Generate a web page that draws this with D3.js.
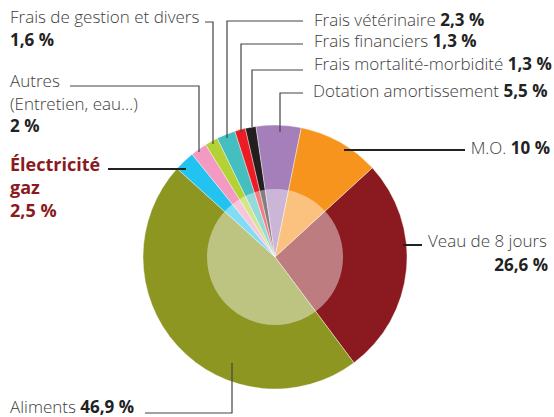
<!DOCTYPE html>
<html>
<head>
<meta charset="utf-8">
<script src="https://cdn.jsdelivr.net/npm/d3@7"></script>
<style>
  body { margin: 0; background: #fff; }
  svg { display: block; font-family: "Open Sans", sans-serif; }
  .lbl { fill: #3d3d3d; font-size: 17px; font-weight: 300; }
  .val { fill: #222; font-weight: 700; }
</style>
</head>
<body>
<svg width="554" height="417"></svg>
<script>
// postes de coût, dans l'ordre horaire
var categories = ["Veau de 8 jours", "Aliments", "Électricité gaz", "Autres (Entretien, eau…)",
    "Frais de gestion et divers", "Frais vétérinaire", "Frais financiers",
    "Frais mortalité-morbidité", "Dotation amortissement", "M.O."];
var values = [26.6, 46.9, 2.5, 2.0, 1.6, 2.3, 1.3, 1.3, 5.5, 10];
var valueLabels = ["26,6 %", "46,9 %", "2,5 %", "2 %", "1,6 %", "2,3 %", "1,3 %", "1,3 %", "5,5 %", "10 %"];
var colors = ["#8b1a20", "#8c9621", "#22c3f0", "#f29ac2", "#b4d235", "#45bec0",
    "#ec1c24", "#231f20", "#a57fb9", "#f7941d"];

var svg = d3.select("svg");
var cx = 275, cy = 257, R = 132, r = 68;

var pie = d3.pie()
    .sort(null)
    .value(function (d) { return d; })
    .startAngle(47.5 * Math.PI / 180)
    .endAngle(47.5 * Math.PI / 180 + 2 * Math.PI);

var arc = d3.arc().innerRadius(0).outerRadius(R);

var g = svg.append("g").attr("transform", "translate(" + cx + "," + cy + ")");

g.selectAll("path")
    .data(pie(values))
    .enter().append("path")
    .attr("d", arc)
    .attr("fill", function (d, i) { return colors[i]; })
    .attr("stroke", "#fff")
    .attr("stroke-width", 0.4);

// disque central plus clair
g.append("circle")
    .attr("r", r)
    .attr("fill", "#fff")
    .attr("fill-opacity", 0.43);

// lignes de rappel
var leaders = [
    { pts: [[403, 245], [422, 245]], w: 2, c: "#222" },                 // veau
    { pts: [[145, 413], [232, 413], [232, 363]], w: 1.2, c: "#444" },   // aliments
    { pts: [[108, 169], [186, 169]], w: 2, c: "#222" },                 // electricite
    { pts: [[70, 86], [199, 86], [199, 152]], w: 1.2, c: "#444" },      // autres
    { pts: [[205, 22], [213, 22], [213, 144]], w: 1.2, c: "#444" },     // gestion
    { pts: [[303, 21], [227, 21], [227, 138]], w: 1.2, c: "#444" },     // veterinaire
    { pts: [[303, 44], [241, 44], [241, 132]], w: 1.2, c: "#444" },     // financiers
    { pts: [[303, 70], [252, 70], [252, 127]], w: 1.2, c: "#444" },     // mortalite
    { pts: [[303, 93], [280, 93], [280, 132]], w: 1.2, c: "#444" },     // dotation
    { pts: [[344, 150], [465, 150]], w: 2, c: "#222" }                  // MO
];

var line = d3.line();
svg.selectAll("path.leader")
    .data(leaders)
    .enter().append("path")
    .attr("class", "leader")
    .attr("d", function (d) { return line(d.pts); })
    .attr("fill", "none")
    .attr("stroke", function (d) { return d.c; })
    .attr("stroke-width", function (d) { return d.w; });

function label(x, y, name, val, anchor) {
    var t = svg.append("text").attr("class", "lbl").attr("x", x).attr("y", y)
        .attr("text-anchor", anchor || "start");
    t.append("tspan").text(name);
    if (val) t.append("tspan").attr("class", "val").text(" " + val);
    return t;
}

label(10, 23, "Frais de gestion et divers");
svg.append("text").attr("class", "lbl val").attr("x", 10).attr("y", 46).text(valueLabels[4]);

label(10, 87, "Autres");
label(10, 110, "(Entretien, eau…)");
svg.append("text").attr("class", "lbl val").attr("x", 10).attr("y", 132).text(valueLabels[3]);

var elec = svg.append("g").style("fill", "#8b1a20").style("font-size", "18px").style("font-weight", 700);
elec.append("text").attr("x", 10).attr("y", 171).text("Électricité");
elec.append("text").attr("x", 10).attr("y", 194).text("gaz");
elec.append("text").attr("x", 10).attr("y", 217).text(valueLabels[2]);

label(314, 26, categories[5], valueLabels[5]);
label(314, 47, categories[6], valueLabels[6]);
label(314, 70, categories[7], valueLabels[7]);
label(313, 97, categories[8], valueLabels[8]);
label(550, 154, categories[9], valueLabels[9], "end");
label(428, 247, categories[0]);
svg.append("text").attr("class", "lbl val").attr("x", 548).attr("y", 271)
    .attr("text-anchor", "end").text(valueLabels[0]);
label(10, 413, categories[1], valueLabels[1]);
</script>
</body>
</html>
